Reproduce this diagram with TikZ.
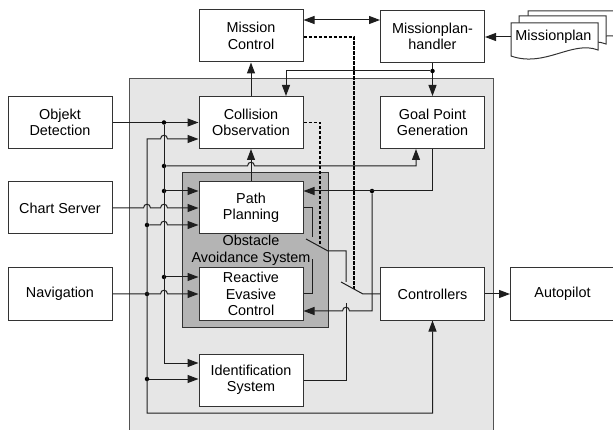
\documentclass[tikz,border=0pt]{standalone}
\usepackage{fontspec}
\setmainfont{Liberation Sans}
\usetikzlibrary{arrows.meta}
\definecolor{linec}{HTML}{1E1E1E}
\definecolor{boxc}{HTML}{333333}
\definecolor{lightg}{HTML}{E6E6E6}
\definecolor{darkg}{HTML}{B4B4B4}
\begin{document}
\begin{tikzpicture}[x=1pt,y=-1pt,
  box/.style={draw=boxc, fill=white, line width=1pt, minimum width=104pt, minimum height=52pt, inner sep=0pt, align=center, font=\fontsize{14.4}{16.5}\selectfont},
  conn/.style={draw=linec, line width=1pt},
  arr/.style={conn, -{Triangle[length=11pt,width=8pt]}},
  darr/.style={conn, {Triangle[length=11pt,width=8pt]}-{Triangle[length=11pt,width=8pt]}},
  ctrl/.style={draw=black, line width=1.5pt, dash pattern=on 3.5pt off 1.5pt},
  jdot/.style={circle, fill=black, inner sep=0pt, minimum size=4.5pt}]
\useasboundingbox (0,0) rectangle (613,430);
\clip (0,0) rectangle (613,430);
% background regions
\filldraw[fill=lightg, draw=boxc!85, line width=1pt] (129,79) rectangle (493,445);
\filldraw[fill=darkg, draw=boxc, line width=1pt] (182,173) rectangle (328,327);
% document stack
\filldraw[fill=white, draw=boxc, line width=1pt] (528,11) -- (620,11) -- (620,38) .. controls (600,28) and (570,56) .. (528,44) -- cycle;
\filldraw[fill=white, draw=boxc, line width=1pt] (519,16) -- (606,16) -- (606,44) .. controls (580,34) and (552,62) .. (519,50) -- cycle;
\filldraw[fill=white, draw=boxc, line width=1pt] (511,23) -- (598,23) -- (598,50) .. controls (572,40) and (545,68) .. (511,56) -- cycle;
\node[font=\fontsize{14.4}{16.5}\selectfont, inner sep=0pt] (doc) at (553.5,37) {Missionplan};
\coordinate (docw) at (511,37);
% boxes
\node[box] (mc)   at (251,36)    {Mission\\Control};
\node[box] (mph)  at (432.5,36.5) {Missionplan-\\handler};
\node[box] (od)   at (60,122.5)  {Objekt\\Detection};
\node[box] (co)   at (251,122.5) {Collision\\Observation};
\node[box] (gpg)  at (432.5,122.5) {Goal Point\\Generation};
\node[box] (cs)   at (60,208)    {Chart Server};
\node[box] (pp)   at (251,208)   {Path\\Planning};
\node[box] (nav)  at (60,294)    {Navigation};
\node[box] (rec)  at (251,294)   {Reactive\\Evasive\\Control};
\node[box] (ctl)  at (432.5,294) {Controllers};
\node[box] (ap)   at (562.5,294) {Autopilot};
\node[box] (ids)  at (251,380)   {Identification\\System};
\node[font=\fontsize{14.4}{16.5}\selectfont, align=center, inner sep=0pt] (oas) at (251,250.5) {Obstacle\\Avoidance System};
% mission level
\draw[darr] (mc.east |- 0,20) -- (mph.west |- 0,20);
\draw[arr] (docw) -- (mph.east |- docw);
\draw[ctrl] (mc.east |- 0,37) -- (354,37) coordinate (mcd) -- (354,289) coordinate (sw2c);
\draw[arr] (mph.south) -- (gpg.north);
\node[jdot] (j1) at (432.5,71) {};
\draw[arr] (j1) -- (286,71) -- (co.north -| 286,0);
\draw[arr] (co.north) -- (mc.south);
% Objekt detection bus
\draw[arr] (od.east) -- (co.west |- od.east);
\node[jdot] (b1) at (164,122.5) {};
\node[jdot] (b2) at (164,166) {};
\node[jdot] (b3) at (164,191) {};
\node[jdot] (b4) at (164,277) {};
\draw[arr] (b1) -- (164,363) -- (ids.west |- 0,363);
\draw[arr] (b2) -- (247.5,166) .. controls (247.5,161) and (254.5,161) .. (254.5,166) -- (416,166) -- (gpg.south -| 416,0);
\draw[arr] (b3) -- (pp.west |- b3);
\draw[arr] (b4) -- (rec.west |- b4);
% Navigation bus
\node[jdot] (n1) at (147,225) {};
\node[jdot] (n2) at (147,294) {};
\node[jdot] (n3) at (147,379) {};
\draw[darr] (co.west |- 0,139) -- (167.5,139) .. controls (167.5,134) and (160.5,134) .. (160.5,139) -- (147,139) -- (147,413) -- (432.5,413) -- (ctl.south);
\draw[arr] (nav.east) -- (160.5,294) .. controls (160.5,289) and (167.5,289) .. (167.5,294) -- (rec.west);
\draw[arr] (n1) -- (160.5,225) .. controls (160.5,220) and (167.5,220) .. (167.5,225) -- (pp.west |- n1);
\draw[arr] (n3) -- (ids.west |- n3);
% Chart server
\draw[arr] (cs.east) -- (143.5,208) .. controls (143.5,203) and (150.5,203) .. (150.5,208) -- (160.5,208) .. controls (160.5,203) and (167.5,203) .. (167.5,208) -- (pp.west);
% Path planning to collision observation
\draw[arr] (pp.north) -- (co.south);
% goal point generation
\node[jdot] (g1) at (372,191) {};
\draw[arr] (gpg.south) -- (432.5,191) -- (pp.east |- 0,191);
\draw[arr] (g1) -- (372,311) -- (349.5,311) .. controls (349.5,306) and (342.5,306) .. (342.5,311) -- (rec.east |- 0,311);
% collision observation control (dashed)
\draw[ctrl] (co.east) -- (320,122.5) -- (320,246);
% switch 1
\draw[conn] (pp.east) -- (312,208) -- (312,237);
\draw[conn] (rec.east) -- (312,294) -- (312,259);
\draw[conn] (306,239) -- (328,251) -- (346,251) -- (346,282);
% switch 2
\draw[conn] (ids.east) -- (346,380) -- (346,303);
\draw[conn] (341,282) -- (363,294) -- (ctl.west);
% controllers to autopilot
\draw[arr] (ctl.east) -- (ap.west);
\end{tikzpicture}
\end{document}
